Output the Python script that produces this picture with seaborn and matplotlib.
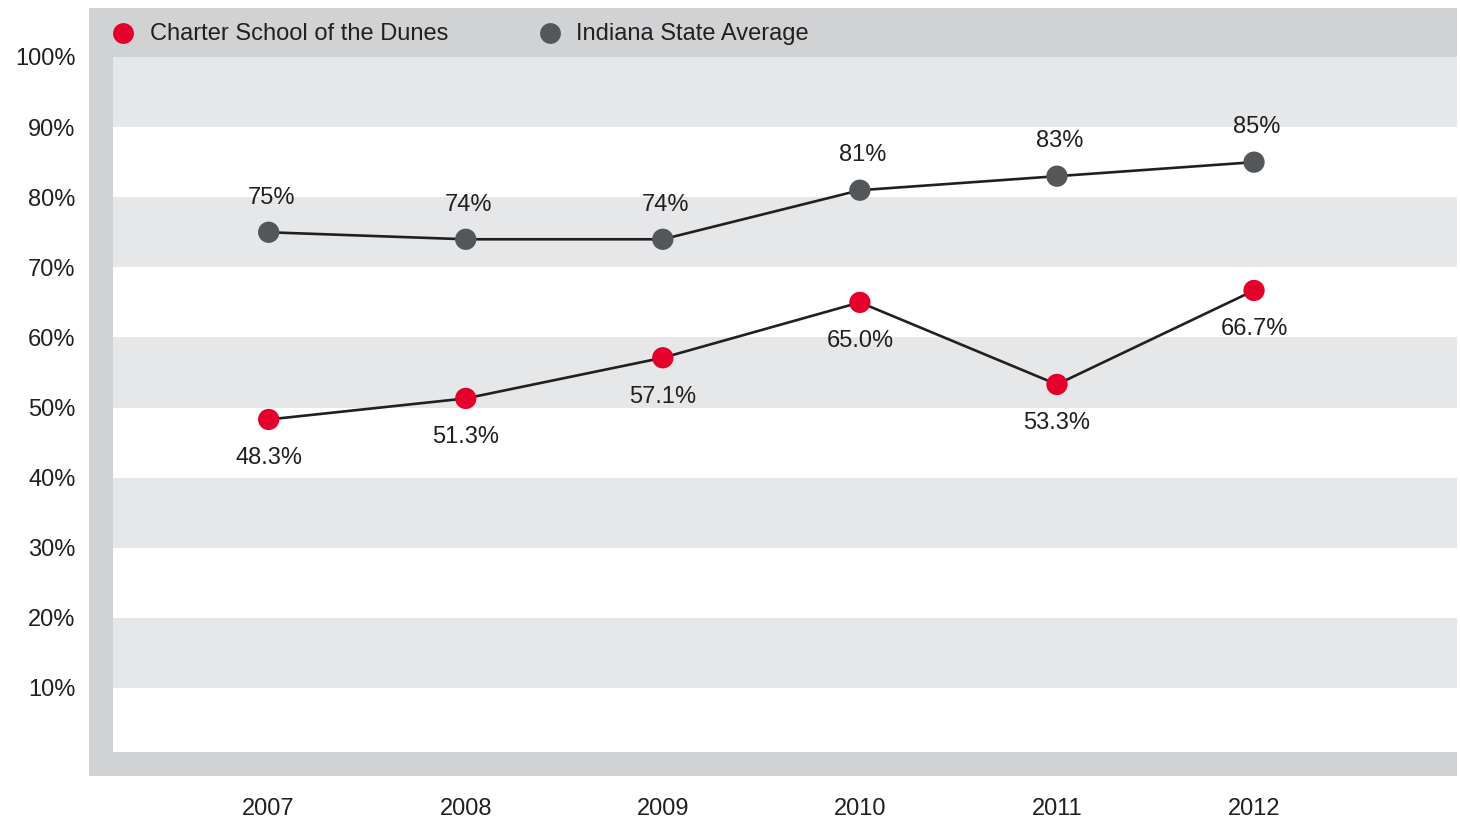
import matplotlib
matplotlib.use('Agg')
import matplotlib.pyplot as plt
import seaborn as sns
import pandas as pd
from matplotlib.patches import Rectangle
from matplotlib.lines import Line2D

# values
years = [2007, 2008, 2009, 2010, 2011, 2012]
school = [48.3, 51.3, 57.1, 65.0, 53.3, 66.7]
state = [75, 74, 74, 81, 83, 85]
school_labels = ['48.3%', '51.3%', '57.1%', '65.0%', '53.3%', '66.7%']
state_labels = ['75%', '74%', '74%', '81%', '83%', '85%']
series_names = ['Charter School of the Dunes', 'Indiana State Average']
y_ticks = [10, 20, 30, 40, 50, 60, 70, 80, 90, 100]

RED = '#e4002b'
GREY = '#54575a'
LINE = '#231f20'
FRAME = '#d1d2d4'
BAND = '#e6e7e8'
TXT = '#231f20'
FS = 17

sns.set_theme(style='white')
plt.rcParams['font.family'] = ['Liberation Sans', 'DejaVu Sans']

df = pd.DataFrame({
    'Year': years * 2,
    'Value': school + state,
    'Series': [series_names[0]] * len(years) + [series_names[1]] * len(years),
})

W, H = 1460, 822
fig = plt.figure(figsize=(W / 100, H / 100), dpi=100)
fig.patch.set_facecolor('white')

# grey frame behind the plot area
fig.patches.append(Rectangle((89 / W, 1 - 776 / H), (1457 - 89) / W, (776 - 8) / H,
                             transform=fig.transFigure, facecolor=FRAME,
                             edgecolor='none', zorder=0))

ax = fig.add_axes([113 / W, 1 - 752 / H, (1457 - 113) / W, (752 - 57) / H])
ax.set_facecolor('white')
ax.set_zorder(1)

# alternating horizontal bands
for lo in range(10, 100, 20):
    ax.axhspan(lo, lo + 10, color=BAND, lw=0, zorder=0)

for name in series_names:
    sub = df[df['Series'] == name]
    sns.lineplot(data=sub, x='Year', y='Value', color=LINE, lw=1.9, ax=ax,
                 legend=False, zorder=2)
sns.scatterplot(data=df, x='Year', y='Value', hue='Series',
                palette={series_names[0]: RED, series_names[1]: GREY},
                s=235, edgecolor='none', ax=ax, legend=False, zorder=3)

for x, v, t in zip(years, school, school_labels):
    ax.annotate(t, (x, v), xytext=(0, -28), textcoords='offset points',
                ha='center', va='center', fontsize=FS, color=TXT)
for x, v, t in zip(years, state, state_labels):
    ax.annotate(t, (x, v), xytext=(2, 25), textcoords='offset points',
                ha='center', va='center', fontsize=FS, color=TXT)

ax.set_xlim(2006.21, 2013.03)
ax.set_ylim(0.87, 100)
ax.set_xticks(years)
ax.set_xticklabels([str(y) for y in years])
ax.set_yticks(y_ticks)
ax.set_yticklabels([f'{v}%' for v in y_ticks])
ax.tick_params(axis='y', length=0, pad=27, labelsize=FS, labelcolor=TXT)
ax.tick_params(axis='x', length=0, pad=33, labelsize=FS, labelcolor=TXT)
ax.set_xlabel('')
ax.set_ylabel('')
for sp in ax.spines.values():
    sp.set_visible(False)

# legend in the top strip of the frame
for mx, tx, col, name in [(123, 150, RED, series_names[0]), (550, 576, GREY, series_names[1])]:
    fig.add_artist(Line2D([mx / W], [1 - 33 / H], marker='o', markersize=15,
                          color=col, markeredgecolor='none', linestyle='none',
                          transform=fig.transFigure, zorder=5))
    fig.text(tx / W, 1 - 34 / H, name, ha='left', va='center', fontsize=FS, color=TXT)

fig.savefig('out.png', dpi=100)
